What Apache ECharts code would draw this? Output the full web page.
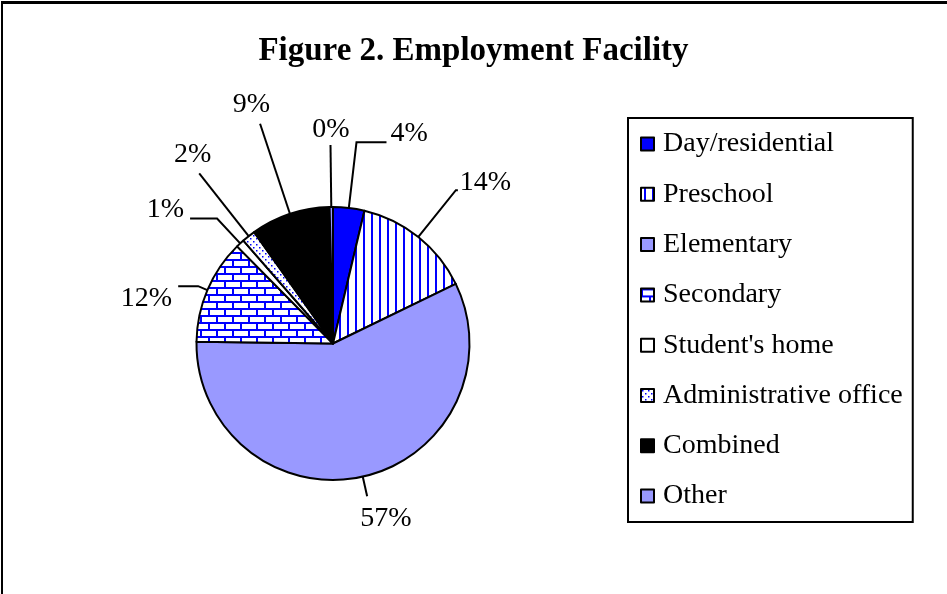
<!DOCTYPE html>
<html>
<head>
<meta charset="utf-8">
<script src="https://cdn.jsdelivr.net/npm/echarts@6/dist/echarts.min.js"></script>
<style>
    body { margin: 0; background: #fff; }
    #frame {
        position: absolute; left: 0; top: 0; width: 947px; height: 594px;
        box-sizing: border-box; border-top: 3px solid #000; border-left: 2px solid #000;
        margin-top: 1px; margin-left: 1px;
    }
    #main { position: absolute; left: 0; top: 0; width: 947px; height: 594px; }
</style>
</head>
<body>
<div id="main"></div>
<div id="frame"></div>
<script>
/* 数据 */
const categories = ['Day/residential', 'Preschool', 'Elementary', 'Secondary',
    "Student's home", 'Administrative office', 'Combined', 'Other'];
const shares = [3.7, 14.1, 57.4, 12.4, 1.0, 1.6, 9.4, 0.4];

/* 填充图案 */
function makePattern(w, h, draw) {
    const c = document.createElement('canvas');
    c.width = w; c.height = h;
    const ctx = c.getContext('2d');
    ctx.fillStyle = '#fff';
    ctx.fillRect(0, 0, w, h);
    ctx.fillStyle = '#0000ff';
    draw(ctx);
    return { image: c, repeat: 'repeat' };
}
const stripes = makePattern(8, 8, ctx => ctx.fillRect(3, 0, 2, 8));
const bricks = makePattern(16, 14, ctx => {
    ctx.fillRect(0, 0, 16, 2);
    ctx.fillRect(0, 7, 16, 2);
    ctx.fillRect(0, 0, 2, 7);
    ctx.fillRect(8, 7, 2, 7);
});
const dots = makePattern(6, 6, ctx => {
    ctx.fillRect(1, 1, 1.5, 1.5);
    ctx.fillRect(4, 4, 1.5, 1.5);
});
const fills = ['#0000ff', stripes, '#9999ff', bricks, '#ffffff', dots, '#000000', '#9999ff'];

// 引导线 [length, length2, distance, 文字偏移(负=上, 正=下)]
const leaders = [
    [66, 30, 4, -9],
    [60, 2, 2, -8],
    [20, 0, -7, 22],
    [10, 20, 6, 12],
    [34, 27, 6, -9],
    [80, 0, -12, -19],
    [95, 0, -10, -19],
    [62, 0, -19, -15]
];

function labelFormatter(p) {
    const txt = '{t|' + Math.round(p.percent) + '%}';
    const off = leaders[p.dataIndex][3];
    if (off < 0) return txt + '\n{g|}';
    if (off > 0) return '{g|}\n' + txt;
    return txt;
}

const chart = echarts.init(document.getElementById('main'));
chart.setOption({
    animation: false,
    title: {
        text: 'Figure 2. Employment Facility',
        left: 'center',
        top: 30,
        textStyle: { fontFamily: 'Liberation Serif', fontWeight: 'bold', fontSize: 33, color: '#000' }
    },
    legend: {
        orient: 'vertical',
        left: 628,
        top: 118,
        padding: [12, 10, 12, 12],
        borderColor: '#000',
        borderWidth: 2,
        itemWidth: 13,
        itemHeight: 13,
        itemGap: 22.3,
        icon: 'rect',
        itemStyle: { borderColor: '#000', borderWidth: 2 },
        textStyle: { fontFamily: 'Liberation Serif', fontSize: 28, lineHeight: 28, color: '#000', padding: [0, 0, 0, 4] },
        data: categories
    },
    series: [{
        type: 'pie',
        center: [333, 343.5],
        radius: 136.5,
        startAngle: 90,
        clockwise: true,
        avoidLabelOverlap: false,
        labelLayout: { hideOverlap: false },
        itemStyle: { borderColor: '#000', borderWidth: 2 },
        label: {
            position: 'outside',
            formatter: labelFormatter
        },
        labelLine: { lineStyle: { color: '#000', width: 2 } },
        emphasis: { disabled: true },
        data: categories.map((name, i) => ({
            name: name,
            value: shares[i],
            itemStyle: { color: fills[i] },
            label: {
                distanceToLabelLine: leaders[i][2],
                rich: {
                    t: { fontFamily: 'Liberation Serif', fontSize: 28, lineHeight: 28, color: '#000' },
                    g: { height: Math.abs(leaders[i][3]) * 2, lineHeight: Math.abs(leaders[i][3]) * 2 }
                }
            },
            labelLine: { length: leaders[i][0], length2: leaders[i][1] }
        }))
    }]
});
</script>
</body>
</html>
